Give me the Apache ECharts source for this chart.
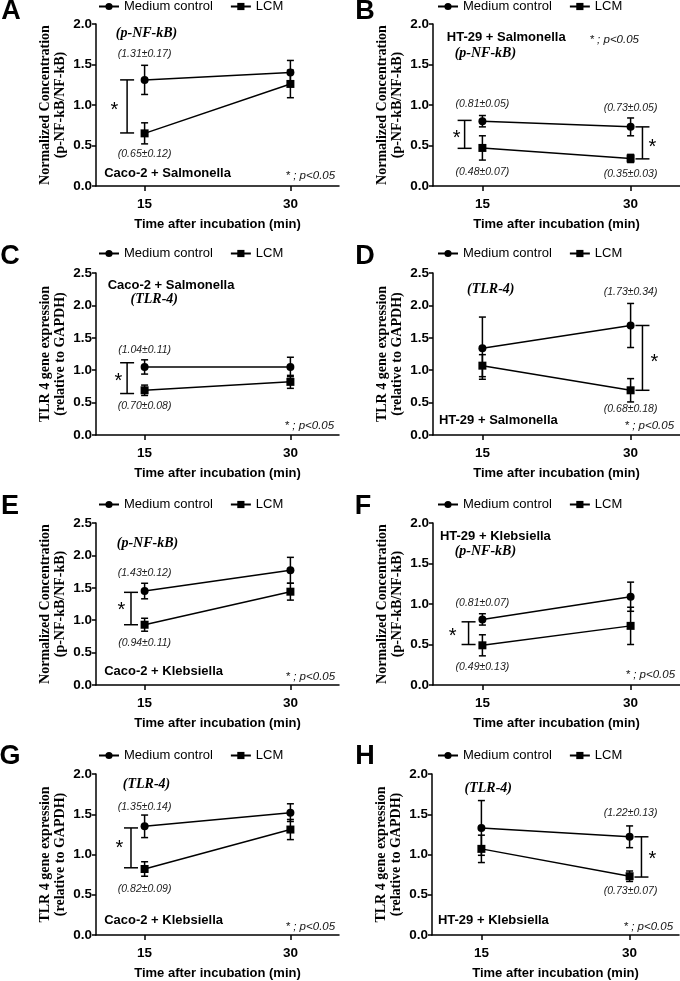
<!DOCTYPE html>
<html>
<head>
<meta charset="utf-8">
<script src="https://cdn.jsdelivr.net/npm/echarts@6/dist/echarts.min.js"></script>
<style>
  html, body { margin: 0; padding: 0; background: #fff; }
  #main { width: 680px; height: 981px; }
</style>
</head>
<body>
<div id="main"></div>
<script>
// panels A..H
const panelLetters = ['A', 'B', 'C', 'D', 'E', 'F', 'G', 'H'];
const timePoints = [15, 30];
const xTicks = [15, 30];
const yMax = [2.0, 2.0, 2.5, 2.5, 2.5, 2.0, 2.0, 2.0];
const nfTitle = 'Normalized Concentration\n(p-NF-kB/NF-kB)';
const tlrTitle = 'TLR 4 gene expression\n(relative to GAPDH)';
const yTitles = [nfTitle, nfTitle, tlrTitle, tlrTitle, nfTitle, nfTitle, tlrTitle, tlrTitle];
const xTitle = 'Time after incubation (min)';

// Medium control / LCM means and error bars at 15 and 30 min
const mediumMean = [[1.31, 1.40], [0.80, 0.73], [1.05, 1.05], [1.34, 1.69], [1.45, 1.77], [0.81, 1.09], [1.35, 1.52], [1.33, 1.22]];
const mediumErr = [[0.18, 0.15], [0.07, 0.11], [0.11, 0.15], [0.48, 0.34], [0.12, 0.20], [0.07, 0.18], [0.14, 0.11], [0.34, 0.135]];
const lcmMean = [[0.65, 1.26], [0.47, 0.34], [0.69, 0.82], [1.07, 0.69], [0.93, 1.44], [0.49, 0.73], [0.82, 1.31], [1.07, 0.73]];
const lcmErr = [[0.13, 0.17], [0.15, 0.05], [0.08, 0.10], [0.17, 0.18], [0.10, 0.13], [0.13, 0.23], [0.09, 0.125], [0.17, 0.065]];

// significance brackets: [x, top, bottom]
const brackets = [
  [[13.2, 1.31, 0.655]],
  [[13.2, 0.81, 0.465], [31.2, 0.73, 0.335]],
  [[13.2, 1.115, 0.64]],
  [[31.2, 1.69, 0.69]],
  [[13.6, 1.43, 0.93]],
  [[13.6, 0.78, 0.50]],
  [[13.6, 1.33, 0.835]],
  [[31.2, 1.22, 0.72]]
];
const stars = [
  [[11.9, 0.98]],
  [[12.4, 0.63], [32.2, 0.52]],
  [[12.3, 0.89]],
  [[32.4, 1.18]],
  [[12.6, 1.21]],
  [[12.0, 0.65]],
  [[12.4, 1.12]],
  [[32.3, 0.99]]
];

// text notes: [kind, x, y, text]
const notes = [
  [['cell', 10.84, 0.153, 'Caco-2 + Salmonella'], ['marker', 15.2, 1.885, '(p-NF-kB)'], ['stat', 15, 1.625, '(1.31±0.17)'], ['stat', 15, 0.39, '(0.65±0.12)'], ['p', 34.6, 0.124, '* ; p<0.05']],
  [['cell', 11.4, 1.835, 'HT-29 + Salmonella'], ['marker', 15.3, 1.64, '(p-NF-kB)'], ['p', 30.85, 1.81, '* ; p<0.05'], ['stat', 15, 1.01, '(0.81±0.05)'], ['stat', 30, 0.957, '(0.73±0.05)'], ['stat', 15, 0.17, '(0.48±0.07)'], ['stat', 30, 0.144, '(0.35±0.03)']],
  [['cell', 11.2, 2.31, 'Caco-2 + Salmonella'], ['marker', 16.0, 2.09, '(TLR-4)'], ['stat', 15, 1.31, '(1.04±0.11)'], ['stat', 15, 0.44, '(0.70±0.08)'], ['p', 34.5, 0.144, '* ; p<0.05']],
  [['marker', 15.85, 2.24, '(TLR-4)'], ['stat', 30, 2.2, '(1.73±0.34)'], ['stat', 30, 0.395, '(0.68±0.18)'], ['cell', 10.6, 0.231, 'HT-29 + Salmonella'], ['p', 34.4, 0.149, '* ; p<0.05']],
  [['marker', 15.3, 2.19, '(p-NF-kB)'], ['stat', 15, 1.727, '(1.43±0.12)'], ['stat', 15, 0.644, '(0.94±0.11)'], ['cell', 10.84, 0.206, 'Caco-2 + Klebsiella'], ['p', 34.6, 0.129, '* ; p<0.05']],
  [['cell', 10.7, 1.835, 'HT-29 + Klebsiella'], ['marker', 15.3, 1.65, '(p-NF-kB)'], ['stat', 15, 1.01, '(0.81±0.07)'], ['stat', 15, 0.227, '(0.49±0.13)'], ['p', 34.5, 0.124, '* ; p<0.05']],
  [['marker', 15.2, 1.87, '(TLR-4)'], ['stat', 15, 1.593, '(1.35±0.14)'], ['stat', 15, 0.575, '(0.82±0.09)'], ['cell', 10.84, 0.177, 'Caco-2 + Klebsiella'], ['p', 34.6, 0.103, '* ; p<0.05']],
  [['marker', 15.7, 1.82, '(TLR-4)'], ['stat', 30.1, 1.52, '(1.22±0.13)'], ['stat', 30.1, 0.546, '(0.73±0.07)'], ['cell', 10.6, 0.177, 'HT-29 + Klebsiella'], ['p', 34.4, 0.103, '* ; p<0.05']]
];

// layout (pixels)
const gridPos = [[96, 24], [433, 24], [96, 273], [433, 273], [96, 523], [433, 523], [96, 774], [432, 774]];
const legendTop = [0, 0, 247, 247, 498, 498, 749, 749];
const letterPos = [[11, 12], [365, 12], [10, 257], [365, 257], [10, 507], [363, 507], [10, 757], [365, 757]];

const sans = 'Liberation Sans, Arial, sans-serif';
const serif = 'Liberation Serif, Times New Roman, serif';

const noteStyle = {
  cell: { fontSize: 13, fontWeight: 'bold', fontStyle: 'normal', fontFamily: sans, align: 'left', fill: '#000' },
  marker: { fontSize: 14, fontWeight: 'bold', fontStyle: 'italic', fontFamily: serif, align: 'center', fill: '#000' },
  stat: { fontSize: 10.5, fontWeight: 'normal', fontStyle: 'italic', fontFamily: sans, align: 'center', fill: '#222' },
  p: { fontSize: 11.5, fontWeight: 'normal', fontStyle: 'italic', fontFamily: sans, align: 'right', fill: '#111' }
};

const grid = [], xAxis = [], yAxis = [], series = [], legend = [], graphic = [];

panelLetters.forEach((letter, i) => {
  const left = gridPos[i][0];
  const isLeft = left < 300;
  grid.push({ left: left, top: gridPos[i][1], width: isLeft ? 243 : 247, height: 162 });

  xAxis.push({
    type: 'value', gridIndex: i, min: 10, max: 35,
    axisLine: { show: true, lineStyle: { color: '#000', width: 1.5 } },
    axisTick: { show: true, customValues: xTicks, length: 5, lineStyle: { color: '#000', width: 1.5 } },
    axisLabel: { customValues: xTicks, color: '#000', fontWeight: 'bold', fontSize: 13.5, fontFamily: sans, margin: 11 },
    splitLine: { show: false },
    name: xTitle, nameLocation: 'middle', nameGap: 32,
    nameTextStyle: { color: '#000', fontWeight: 'bold', fontSize: 13, fontFamily: sans }
  });

  yAxis.push({
    type: 'value', gridIndex: i, min: 0, max: yMax[i], interval: 0.5,
    axisLine: { show: true, lineStyle: { color: '#000', width: 1.5 } },
    axisTick: { show: true, length: 4, lineStyle: { color: '#000', width: 1.5 } },
    axisLabel: { color: '#000', fontWeight: 'bold', fontSize: 13.5, fontFamily: sans, margin: 4, formatter: v => v.toFixed(1) },
    splitLine: { show: false },
    name: yTitles[i], nameLocation: 'middle', nameRotate: 90, nameGap: 28,
    nameTextStyle: { color: '#000', fontWeight: 'bold', fontSize: 14, fontFamily: serif, lineHeight: 15 }
  });

  series.push({
    name: 'Medium control', type: 'line', xAxisIndex: i, yAxisIndex: i,
    data: timePoints.map((t, k) => [t, mediumMean[i][k]]),
    symbol: 'circle', symbolSize: 8,
    lineStyle: { color: '#000', width: 1.5 }, itemStyle: { color: '#000' },
    z: 5, animation: false
  });
  series.push({
    name: 'LCM', type: 'line', xAxisIndex: i, yAxisIndex: i,
    data: timePoints.map((t, k) => [t, lcmMean[i][k]]),
    symbol: 'rect', symbolSize: 8,
    lineStyle: { color: '#000', width: 1.5 }, itemStyle: { color: '#000' },
    z: 5, animation: false
  });

  // error bars
  const errData = [];
  timePoints.forEach((t, k) => {
    errData.push([t, mediumMean[i][k], mediumErr[i][k]]);
    errData.push([t, lcmMean[i][k], lcmErr[i][k]]);
  });
  series.push({
    type: 'custom', xAxisIndex: i, yAxisIndex: i, data: errData, z: 4, silent: true,
    renderItem: (params, api) => {
      const x = api.value(0), m = api.value(1), e = api.value(2);
      const hi = api.coord([x, m + e]), lo = api.coord([x, m - e]);
      const w = 3.5;
      const st = { stroke: '#000', lineWidth: 1.5 };
      return {
        type: 'group', children: [
          { type: 'line', shape: { x1: hi[0], y1: hi[1], x2: lo[0], y2: lo[1] }, style: st },
          { type: 'line', shape: { x1: hi[0] - w, y1: hi[1], x2: hi[0] + w, y2: hi[1] }, style: st },
          { type: 'line', shape: { x1: lo[0] - w, y1: lo[1], x2: lo[0] + w, y2: lo[1] }, style: st }
        ]
      };
    }
  });

  // significance brackets
  series.push({
    type: 'custom', xAxisIndex: i, yAxisIndex: i, data: brackets[i], z: 4, silent: true,
    renderItem: (params, api) => {
      const x = api.value(0);
      const top = api.coord([x, api.value(1)]), bot = api.coord([x, api.value(2)]);
      const w = 7;
      const st = { stroke: '#000', lineWidth: 1.5 };
      return {
        type: 'group', children: [
          { type: 'line', shape: { x1: top[0], y1: top[1], x2: bot[0], y2: bot[1] }, style: st },
          { type: 'line', shape: { x1: top[0] - w, y1: top[1], x2: top[0] + w, y2: top[1] }, style: st },
          { type: 'line', shape: { x1: bot[0] - w, y1: bot[1], x2: bot[0] + w, y2: bot[1] }, style: st }
        ]
      };
    }
  });

  // asterisks
  series.push({
    type: 'custom', xAxisIndex: i, yAxisIndex: i, data: stars[i], z: 4, silent: true,
    renderItem: (params, api) => {
      const p = api.coord([api.value(0), api.value(1)]);
      return {
        type: 'text', x: p[0], y: p[1] + 4,
        style: { text: '*', fontSize: 20, fontFamily: sans, fill: '#000', align: 'center', verticalAlign: 'middle' }
      };
    }
  });

  // text notes
  series.push({
    type: 'custom', xAxisIndex: i, yAxisIndex: i, z: 6, silent: true,
    data: notes[i].map(n => [n[1], n[2]]),
    renderItem: (params, api) => {
      const n = notes[i][params.dataIndex];
      const p = api.coord([api.value(0), api.value(1)]);
      const s = noteStyle[n[0]];
      return {
        type: 'text', x: p[0], y: p[1],
        style: Object.assign({ text: n[3], verticalAlign: 'middle' }, s)
      };
    }
  });

  legend.push({
    data: ['Medium control', 'LCM'],
    left: isLeft ? 98 : 437, top: legendTop[i], padding: 0,
    itemWidth: 20, itemHeight: 9, itemGap: 17, selectedMode: false,
    textStyle: { color: '#000', fontSize: 13, fontFamily: sans }
  });

  graphic.push({
    type: 'text', x: letterPos[i][0], y: letterPos[i][1],
    style: { text: letter, fontSize: 27, fontWeight: 'bold', fontFamily: sans, fill: '#000', align: 'center', verticalAlign: 'middle' }
  });
});

const chart = echarts.init(document.getElementById('main'));
chart.setOption({
  backgroundColor: '#fff',
  animation: false,
  grid: grid,
  xAxis: xAxis,
  yAxis: yAxis,
  legend: legend,
  graphic: graphic,
  series: series
});
</script>
</body>
</html>
